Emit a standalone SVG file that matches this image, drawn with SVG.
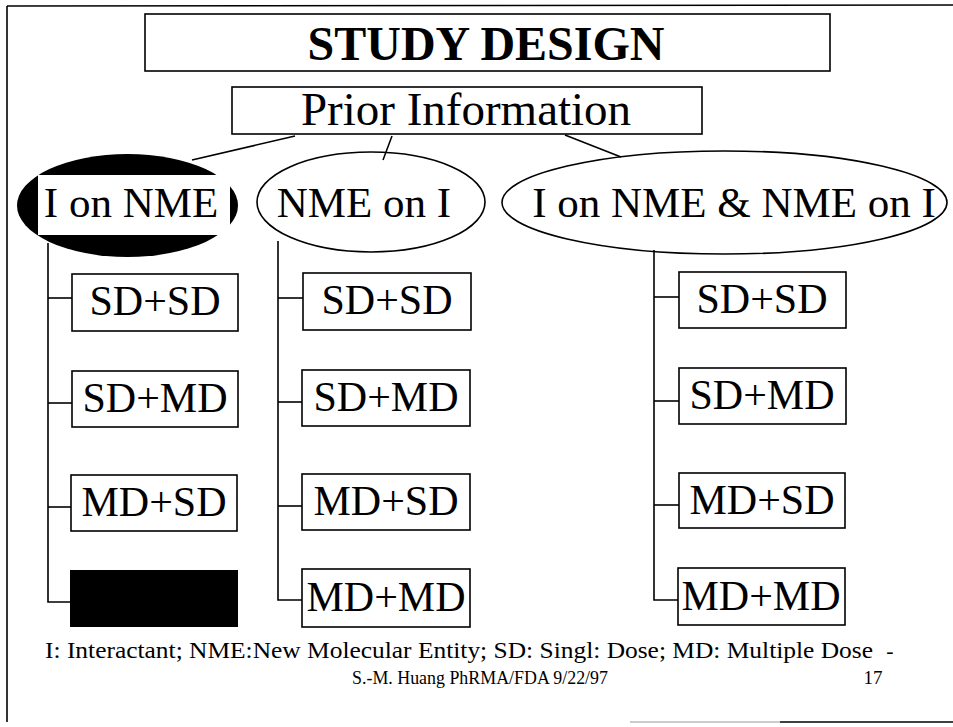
<svg xmlns="http://www.w3.org/2000/svg" width="953" height="727" viewBox="0 0 953 727">
<style>
.t{font-family:"Liberation Serif","Times New Roman",serif;fill:#000;text-anchor:middle}
.s{font-family:"Liberation Serif","Times New Roman",serif;fill:#000;text-anchor:start}
.box{fill:#fff;stroke:#000;stroke-width:1.6}
.ell{fill:#fff;stroke:#000;stroke-width:1.6}
.c{stroke:#000;stroke-width:1.6;fill:none}
.lbl{font-size:42px}
.el{font-size:43px}
</style>
<rect width="953" height="727" fill="#fff"/>
<g id="frame" class="c">
<line x1="7" y1="6" x2="953" y2="5"/>
<line x1="7" y1="6" x2="7" y2="722"/>
<line x1="630" y1="722" x2="780" y2="722" stroke="#999" stroke-width="1"/>
<line x1="780" y1="722" x2="953" y2="722"/>
</g>
<g id="title">
<rect class="box" x="145" y="14" width="685" height="57"/>
<text class="t" x="486" y="60" font-size="48" font-weight="bold">STUDY DESIGN</text>
</g>
<g id="prior">
<rect class="box" x="232" y="87" width="470" height="47"/>
<text class="t" x="466" y="125" font-size="47">Prior Information</text>
</g>
<g id="i-on-nme">
<ellipse cx="127.5" cy="205.5" rx="110.5" ry="51.5" fill="#000"/>
<rect x="38" y="175" width="192" height="60" fill="#fff"/>
<text class="t el" x="131" y="217">I on NME</text>
</g>
<g id="nme-on-i">
<ellipse class="ell" cx="371" cy="202" rx="114" ry="50"/>
<text class="t el" x="364" y="217">NME on I</text>
</g>
<g id="both">
<ellipse class="ell" cx="724.5" cy="202.5" rx="222.5" ry="51.5"/>
<text class="t el" x="734" y="217">I on NME &amp; NME on I</text>
</g>
<g id="c1-sdsd"><rect class="box" x="72" y="274" width="166" height="57"/><text class="t lbl" x="155" y="315">SD+SD</text></g>
<g id="c1-sdmd"><rect class="box" x="72" y="371" width="166" height="56"/><text class="t lbl" x="155" y="412">SD+MD</text></g>
<g id="c1-mdsd"><rect class="box" x="71" y="475" width="166" height="56"/><text class="t lbl" x="154" y="516">MD+SD</text></g>
<g id="c1-mdmd"><rect x="70" y="570" width="168" height="57" fill="#000"/></g>
<g id="c2-sdsd"><rect class="box" x="303" y="273" width="168" height="57"/><text class="t lbl" x="387" y="314">SD+SD</text></g>
<g id="c2-sdmd"><rect class="box" x="302" y="370" width="168" height="56"/><text class="t lbl" x="386" y="411">SD+MD</text></g>
<g id="c2-mdsd"><rect class="box" x="302" y="474" width="168" height="56"/><text class="t lbl" x="386" y="515">MD+SD</text></g>
<g id="c2-mdmd"><rect class="box" x="302" y="569" width="168" height="58"/><text class="t lbl" x="386" y="611">MD+MD</text></g>
<g id="c3-sdsd"><rect class="box" x="679" y="272" width="167" height="56"/><text class="t lbl" x="762" y="313">SD+SD</text></g>
<g id="c3-sdmd"><rect class="box" x="679" y="368" width="167" height="56"/><text class="t lbl" x="762" y="409">SD+MD</text></g>
<g id="c3-mdsd"><rect class="box" x="679" y="473" width="166" height="55"/><text class="t lbl" x="762" y="514">MD+SD</text></g>
<g id="c3-mdmd"><rect class="box" x="678" y="568" width="167" height="57"/><text class="t lbl" x="761" y="610">MD+MD</text></g>
<g id="connectors" class="c">
<line x1="295" y1="136" x2="192" y2="160"/>
<line x1="392" y1="136" x2="383" y2="160"/>
<line x1="565" y1="135" x2="621" y2="157"/>
<polyline points="48,243 48,602 70,602"/>
<line x1="48" y1="298" x2="72" y2="298"/>
<line x1="48" y1="403" x2="72" y2="403"/>
<line x1="48" y1="507" x2="71" y2="507"/>
<polyline points="278,241 278,600 302,600"/>
<line x1="278" y1="298" x2="303" y2="298"/>
<line x1="278" y1="402" x2="302" y2="402"/>
<line x1="278" y1="506" x2="302" y2="506"/>
<polyline points="654,250 654,600 678,600"/>
<line x1="654" y1="297" x2="679" y2="297"/>
<line x1="654" y1="401" x2="679" y2="401"/>
<line x1="654" y1="505" x2="679" y2="505"/>
</g>
<g id="footer">
<text class="s" x="45" y="658" font-size="23" textLength="828" lengthAdjust="spacingAndGlyphs">I: Interactant; NME:New Molecular Entity; SD: Singl: Dose; MD: Multiple Dose</text>
<text class="t" x="890" y="658" font-size="22">-</text>
<text class="s" x="352" y="684" font-size="19" textLength="256" lengthAdjust="spacingAndGlyphs">S.-M. Huang PhRMA/FDA 9/22/97</text>
<text class="t" x="873" y="684" font-size="19">17</text>
</g>
</svg>
